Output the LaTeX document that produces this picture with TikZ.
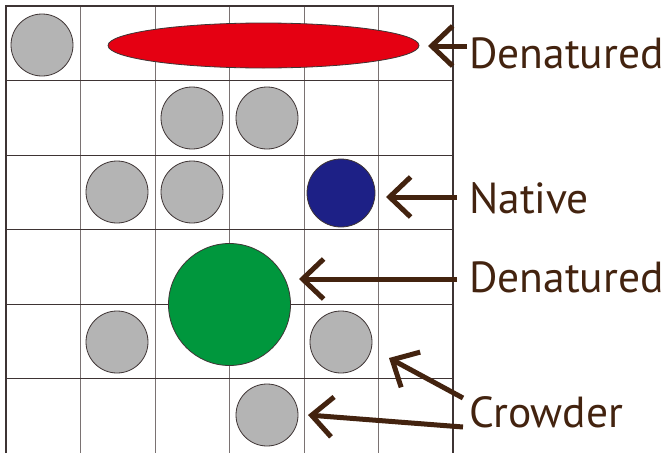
\documentclass[tikz,border=0pt]{standalone}
\usepackage{fontspec}
\setmainfont{PT Sans}
\usetikzlibrary{arrows.meta,shapes.geometric}
\definecolor{brn}{HTML}{43230F}
\definecolor{gfill}{HTML}{B4B4B4}
\definecolor{redf}{HTML}{E50012}
\definecolor{bluef}{HTML}{1D2086}
\definecolor{greenf}{HTML}{00973D}
\definecolor{gdark}{HTML}{3E3434}
\definecolor{glight}{HTML}{7A7272}
\tikzset{
  ball/.style={circle,draw=gdark,line width=0.8pt,fill=gfill,minimum size=62pt,inner sep=0pt},
  lab/.style={anchor=base west,text=brn,font=\fontsize{43.5}{45}\selectfont,inner sep=0pt},
  arr/.style={draw=brn,line width=5pt,-{Straight Barb[length=21pt,width=40pt]}},
}
\begin{document}
\begin{tikzpicture}[x=1pt,y=-1pt]
\useasboundingbox (0,0) rectangle (672,453);
\fill[white] (0,0) rectangle (672,453);
% grid
\foreach \x in {80.7,155.3,229.8,304.3,378.8}
  \draw[glight,line width=1pt] (\x,6) -- (\x,453);
\foreach \y in {80.7,155.3,229.8,304.3,378.8}
  \draw[gdark,line width=1pt] (6,\y) -- (453,\y);
\draw[gdark,line width=1.2pt] (6,453) -- (6,6) -- (453,6) -- (453,453);
% molecules
\node[ball] (g1) at (42,45) {};
\node[draw=gdark,line width=0.8pt,fill=redf,ellipse,minimum width=311pt,minimum height=45pt,inner sep=0pt] (red) at (263.5,45.5) {};
\node[ball] (g2) at (192,118) {};
\node[ball] (g3) at (267,118) {};
\node[ball] (g4) at (117,192) {};
\node[ball] (g5) at (192,192) {};
\node[ball,fill=bluef,minimum size=68pt] (blue) at (341,193) {};
\node[ball,fill=greenf,minimum size=122pt] (green) at (229.5,304.5) {};
\node[ball] (g6) at (117,342) {};
\node[ball] (g7) at (341,342) {};
\node[ball] (g8) at (267,415) {};
% labels
\node[lab] (l1) at (469,68) {Denatured};
\node[lab] (l2) at (469,213) {Native};
\node[lab] (l3) at (469,292) {Denatured};
\node[lab] (l4) at (469,427) {Crowder};
% arrow ends
\coordinate (a1s) at (467,46);   \coordinate (a1e) at (428,46);
\coordinate (a2s) at (457,197);  \coordinate (a2e) at (386,197);
\coordinate (a3s) at (457,279);  \coordinate (a3e) at (299,279);
\coordinate (a4s) at (463,398);  \coordinate (a4e) at (389,358);
\coordinate (a5s) at (463,427);  \coordinate (a5e) at (308,415);
\draw[arr] (a1s) -- (a1e);
\draw[arr] (a2s) -- (a2e);
\draw[arr] (a3s) -- (a3e);
\draw[arr] (a4s) -- (a4e);
\draw[arr] (a5s) -- (a5e);
\end{tikzpicture}
\end{document}
